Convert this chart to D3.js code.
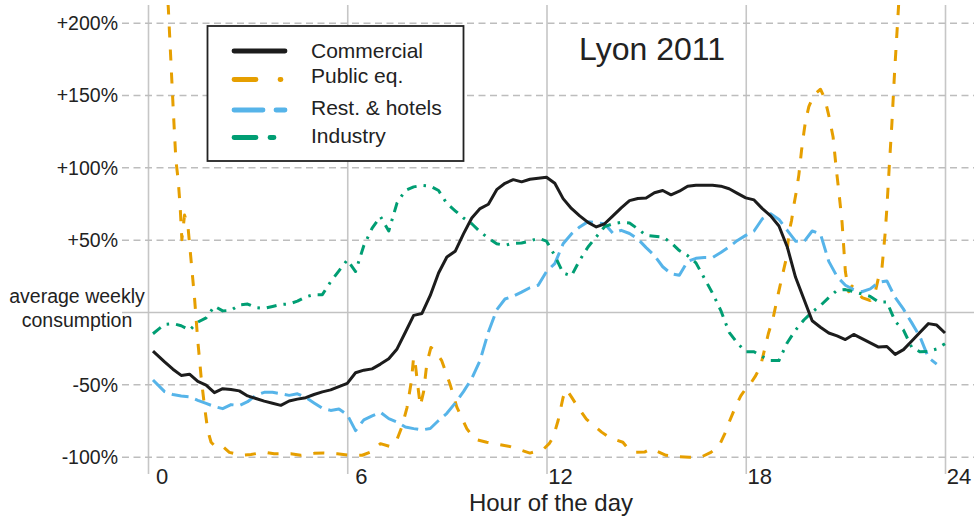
<!DOCTYPE html>
<html>
<head>
<meta charset="utf-8">
<script src="https://cdn.jsdelivr.net/npm/d3@7"></script>
<style>
  html, body { margin: 0; padding: 0; background: #fff; }
  svg { display: block; font-family: "Liberation Sans", Arial, Helvetica, sans-serif; }
</style>
</head>
<body>
<svg id="chart" width="974" height="516"></svg>
<script>
// Hour of the day for the shared series (first sample at 0:09)
const hours = [
  0.15, 0.5, 0.75,
  1, 1.25, 1.5, 1.75,   2, 2.25, 2.5, 2.75,   3, 3.25, 3.5, 3.75,
  4, 4.25, 4.5, 4.75,   5, 5.25, 5.5, 5.75,   6, 6.25, 6.5, 6.75,
  7, 7.25, 7.5, 7.75,   8, 8.25, 8.5, 8.75,   9, 9.25, 9.5, 9.75,
  10, 10.25, 10.5, 10.75, 11, 11.25, 11.5, 11.75, 12, 12.25, 12.5, 12.75,
  13, 13.25, 13.5, 13.75, 14, 14.25, 14.5, 14.75, 15, 15.25, 15.5, 15.75,
  16, 16.25, 16.5, 16.75, 17, 17.25, 17.5, 17.75, 18, 18.25, 18.5, 18.75,
  19, 19.25, 19.5, 19.75, 20, 20.25, 20.5, 20.75, 21, 21.25, 21.5, 21.75,
  22, 22.25, 22.5, 22.75, 23, 23.25, 23.5, 23.75,
  24
];

// Deviation from the average weekly consumption, in %
const commercial = [
  -27, -34.5, -39.5,
  -43.8, -43, -48, -50.5,    -55.7, -53, -53.5, -54.5,   -58, -59.8, -61.6, -63,
  -64.5, -61.5, -60.2, -59.2, -57, -55.2, -53.8, -51.5,  -49.3, -42, -40.2, -39.3,
  -36, -32.3, -25.5, -14,    -2.3, -1, 11.5, 27,         38, 42, 54, 65,
  71.5, 74.5, 84.6, 89,      91.5, 90, 91.8, 92.5,       93.2, 89, 78.4, 71.6,
  66.5, 62, 58.8, 61,        66.5, 72, 77, 78.5,         78.8, 82.5, 84, 81,
  83.5, 87, 87.6, 87.6,      87.6, 87, 85.2, 82,         78.9, 77.5, 71.5, 66.5,
  59.5, 45, 24, 9,           -6, -10.5, -14.5, -16.5,    -19, -15.5, -18.4, -21.3,
  -24.2, -23.8, -29.3, -26,  -20, -14, -8, -9,
  -14.5
];

const restHotels = [
  -47, -55, -57,
  -58, -58.6, -61, -63.2,    -65.3, -66.8, -64, -64.6,   -62, -57.5, -55.5, -55.5,
  -56.5, -57.6, -56.5, -59,  -62.8, -66.5, -68, -67,     -71, -82, -74.5, -71.8,
  -69.3, -73.7, -76, -79.5,  -80.6, -81.5, -80.5, -75,   -70, -63, -55, -46,
  -33.4, -13.8, 1.5, 9,      11, 13.8, 16.8, 18.5,       28, 33.5, 47.2, 54,
  58.8, 62.5, 61.8, 61,      54.5, 56.5, 54.3, 50.5,     44.5, 39, 31.3, 26.5,
  25.4, 35, 37.1, 37.7,      37.7, 41.2, 45, 49.5,       53, 56, 64.5, 68,
  64, 56.5, 49, 48.5,        56, 54, 35, 24.5,           18.5, 15.5, 14, 16,
  20.5, 21.5, 10, 2,         -7.5, -17.3, -31.5, -36,
  null
];

const industry = [
  -15, -8.5, -8,
  -9.5, -12.5, -7, -4,       4, 0.8, 1.2, 5,             5.5, 3, 2.5, 3.8,
  5.2, 5.6, 7.5, 10.5,       12, 12, 21, 28.5,           36, 28, 46, 58,
  66, 56, 75.5, 84,          86.5, 87.5, 87, 84,         75, 70, 65, 61,
  55.5, 51, 47.2, 46.1,      47.5, 47.7, 49, 51,         49, 39, 27, 25,
  35.8, 45, 52, 59,          61, 62, 61.5, 57.5,         53, 52.4, 51.8, 48,
  42.5, 39, 34, 23.5,        13, 1, -14, -21.5,          -27.5, -27.5, -30.8, -33.5,
  -33.5, -21.2, -12.5, -5.5, 0, 4.5, 10, 15,             15.5, 14, 12.5, 10.8,
  7, 7, -6.5, -12.5,         -24.5, -27.5, -27.2, -25.5,
  -21.9
];

// Public equipment has sharp peaks, so it keeps its own time base
const publicHours = [
  0.15, 0.61, 0.76, 0.84, 0.91, 0.97, 1.02, 1.1, 1.2, 1.3, 1.4, 1.5, 1.6, 1.7, 1.8, 1.9,
  2.05, 2.25, 2.45, 2.8, 3.1, 3.5, 3.8, 4.3, 4.6, 5.0, 5.3, 5.7, 6.1, 6.45, 6.7,
  7.0, 7.3, 7.5, 7.65, 7.8, 7.93, 8.0, 8.05, 8.12, 8.2, 8.3, 8.4, 8.52, 8.65, 8.84,
  9.09, 9.3, 9.6, 9.85, 10.2, 10.9, 11.5, 11.9, 12.08, 12.2, 12.35, 12.5, 12.6, 12.76,
  12.91, 13.2, 13.66, 13.91, 14.3, 14.46, 14.7, 14.95, 15.15, 15.6, 15.9, 16.3, 16.65,
  16.95, 17.2, 17.37, 17.52, 17.7, 17.85, 18.0, 18.1, 18.3, 18.45, 18.68, 18.83, 18.98,
  19.1, 19.23, 19.3, 19.38, 19.45, 19.53, 19.6, 19.68, 19.75, 19.8, 19.9, 20.05, 20.25,
  20.38, 20.5, 20.63, 20.73, 20.8, 20.9, 20.95, 21.0, 21.1, 21.2, 21.5, 21.75, 21.9,
  22.0, 22.1, 22.2, 22.25, 22.32, 22.4, 22.48, 22.6, 22.7
];
const publicEq = [
  340, 211, 140, 105, 91, 72, 50, 67, 60, 35, 10, -20, -45, -65, -82, -90,
  -93.5, -93, -97, -99, -98.5, -96.8, -98, -98, -99, -97.7, -97.5, -98, -99, -99, -96.8,
  -91, -93, -88, -79, -66, -48, -31, -36, -50, -65, -55, -35, -24.5, -27, -33.4,
  -49.5, -65.7, -80.6, -88, -90, -93, -97.5, -95, -91, -86.6, -75, -59, -53.5, -59,
  -64.5, -74, -83, -87, -90, -94.5, -97, -96.8, -94.5, -99, -100, -100.3, -100.3,
  -97, -92.5, -84, -75, -65, -58, -53, -51, -44, -37, -15, -3.5, 12.7,
  25, 38, 55, 63.4, 74, 84.2, 95, 111.8, 124, 132, 142, 150, 154,
  147.6, 136, 121, 98, 84, 62, 45, 28, 14, 18, 10, 8, 14,
  24, 30, 55, 72, 100, 130, 165, 211, 260
];

const seriesNames = ["Commercial", "Public eq.", "Rest. & hotels", "Industry"];
const seriesColors = ["#1c1c1c", "#e69f00", "#56b4e9", "#009e73"];

const hourTicks = [0, 6, 12, 18, 24];
const pctTicks = [-100, -50, 0, 50, 100, 150, 200];
const pctLabels = ["-100%", "-50%", "", "+50%", "+100%", "+150%", "+200%"];
const zeroLabel = ["average weekly", "consumption"];
const xTitle = "Hour of the day";
const chartTitle = "Lyon 2011";

const svg = d3.select("#chart");
const W = 974;
const plotTop = 5, plotBottom = 474, gridLeft = 122;

const x = d3.scaleLinear().domain([0, 24]).range([148, 945]);
const y = d3.scaleLinear().domain([-100, 200]).range([456.7, 22.7]);

svg.append("defs").append("clipPath").attr("id", "plotClip")
  .append("rect").attr("x", 140).attr("y", plotTop).attr("width", W - 140).attr("height", plotBottom - plotTop);

// Vertical grid + hour labels
const xAxis = svg.append("g")
  .attr("transform", `translate(0,${plotBottom})`)
  .call(d3.axisBottom(x).tickValues(hourTicks).tickSize(-(plotBottom - plotTop)).tickFormat(d3.format("d")));
xAxis.select(".domain").remove();
xAxis.selectAll(".tick line").attr("stroke", "#c6c6c6").attr("stroke-width", 1.6);
xAxis.selectAll(".tick text")
  .attr("x", 13.5).attr("y", 10).attr("dy", 0)
  .attr("text-anchor", "middle")
  .attr("fill", "#222").attr("font-size", 22);

// Horizontal grid + percentage labels
const yAxis = svg.append("g")
  .attr("transform", `translate(${gridLeft},0)`)
  .call(d3.axisLeft(y).tickValues(pctTicks).tickSize(-(W - gridLeft)).tickPadding(4)
    .tickFormat((d, i) => pctLabels[i]));
yAxis.select(".domain").remove();
yAxis.selectAll(".tick line")
  .attr("stroke", d => d === 0 ? "#c2c2c2" : "#bdbdbd")
  .attr("stroke-width", 1.5)
  .attr("stroke-dasharray", d => d === 0 ? null : "7,4.5");
yAxis.selectAll(".tick text")
  .attr("fill", "#222").attr("font-size", 19.5).attr("dy", "0.34em");

// Two-line label for the zero line
svg.append("text")
  .attr("text-anchor", "middle").attr("fill", "#222").attr("font-size", 19.5)
  .selectAll("tspan").data(zeroLabel).join("tspan")
  .attr("x", 77).attr("y", (d, i) => y(0) - 9.5 + i * 24.5)
  .text(d => d);

// Series lines
const plot = svg.append("g").attr("clip-path", "url(#plotClip)");
const lineOf = (hs, vs) => d3.line()
  .defined((d, i) => vs[i] !== null)
  .x((d, i) => x(hs[i]))
  .y((d, i) => y(vs[i]))(hs);

const drawn = [
  { hs: publicHours, vs: publicEq, color: seriesColors[1], dash: "11,12" },
  { hs: hours, vs: restHotels, color: seriesColors[2], dash: "17,7" },
  { hs: hours, vs: industry, color: seriesColors[3], dash: "10,7,2.5,7" },
  { hs: hours, vs: commercial, color: seriesColors[0], dash: null }
];
drawn.forEach(s => {
  plot.append("path")
    .attr("d", lineOf(s.hs, s.vs))
    .attr("fill", "none")
    .attr("stroke", s.color)
    .attr("stroke-width", 3)
    .attr("stroke-linejoin", "round")
    .attr("stroke-dasharray", s.dash);
});

// Legend
const legend = svg.append("g");
legend.append("rect")
  .attr("x", 207.5).attr("y", 26).attr("width", 256).attr("height", 135)
  .attr("fill", "#fff").attr("stroke", "#222").attr("stroke-width", 1.8);
const legendLineY = [51, 79.5, 110, 137.5];
const legendTextY = [58.3, 83.3, 115, 143];
const legendDash = [null, "22,24,1", "29,13,16", "22,14,4,14,10"];
seriesNames.forEach((name, i) => {
  legend.append("line")
    .attr("x1", 234).attr("x2", 285)
    .attr("y1", legendLineY[i]).attr("y2", legendLineY[i])
    .attr("stroke", seriesColors[i]).attr("stroke-width", 4.8)
    .attr("stroke-linecap", "round")
    .attr("stroke-dasharray", legendDash[i]);
  legend.append("text")
    .attr("x", 311).attr("y", legendTextY[i])
    .attr("fill", "#222").attr("font-size", 21)
    .text(name);
});

// Titles
svg.append("text")
  .attr("x", 652).attr("y", 60).attr("text-anchor", "middle")
  .attr("fill", "#222").attr("font-size", 32)
  .text(chartTitle);
svg.append("text")
  .attr("x", 551).attr("y", 511).attr("text-anchor", "middle")
  .attr("fill", "#222").attr("font-size", 24)
  .text(xTitle);
</script>
</body>
</html>
